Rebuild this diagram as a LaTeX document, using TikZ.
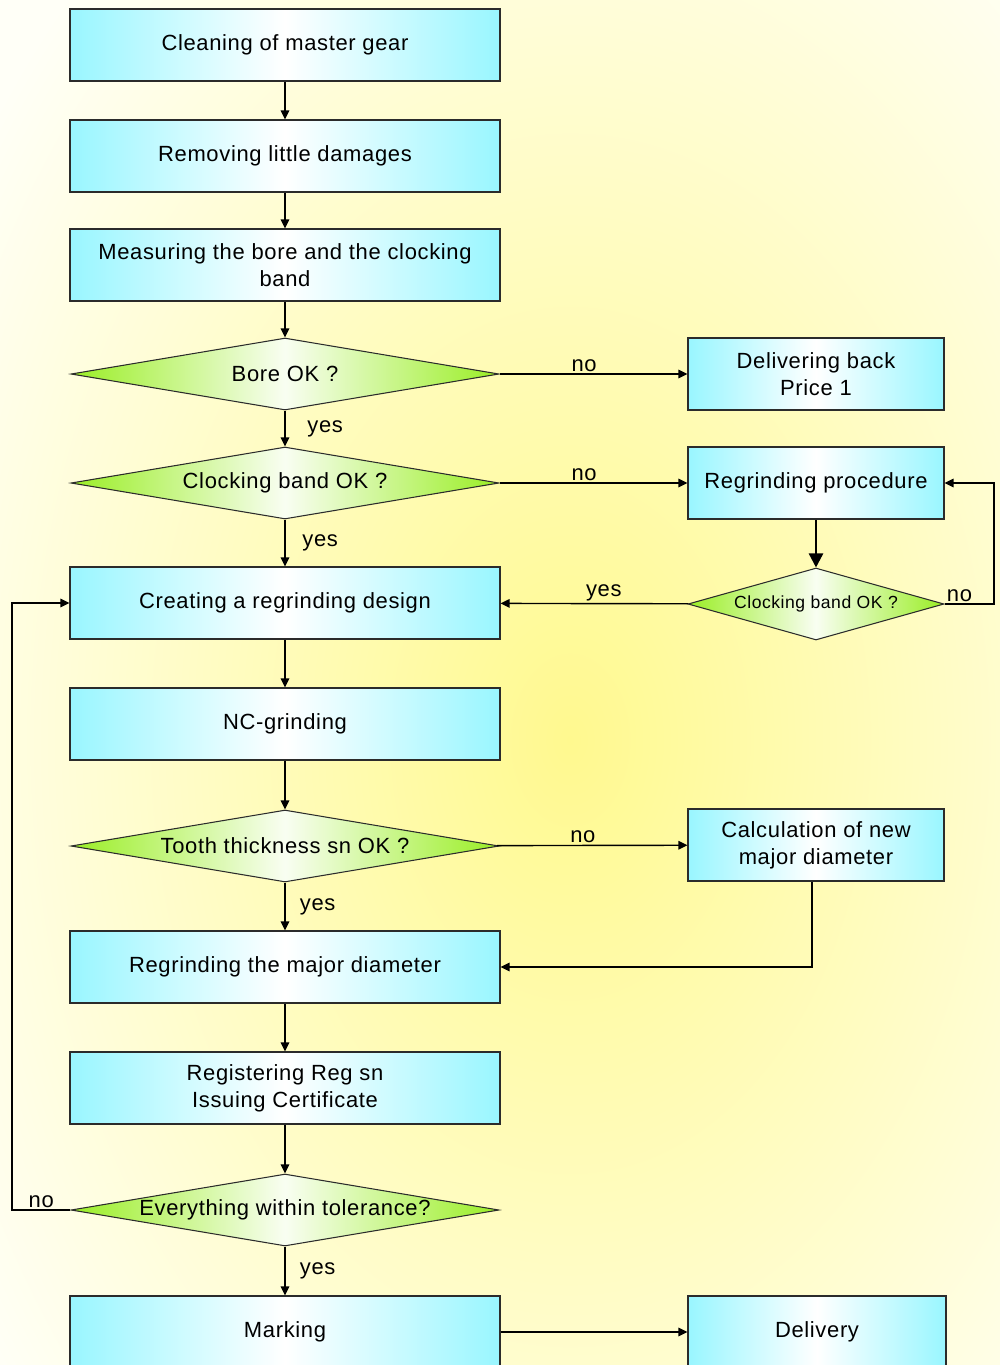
\documentclass[tikz,border=0pt]{standalone}
\usepackage{fontspec}
\setmainfont{Liberation Sans}[LetterSpace=3]
\usetikzlibrary{arrows.meta,positioning,calc,shapes.geometric}
\definecolor{Glow}{HTML}{FFF98F}
\definecolor{Cream}{HTML}{FFFFF7}
\definecolor{BoxCyan}{HTML}{99F6FF}
\definecolor{Lime}{HTML}{9AEE25}
\definecolor{Edge}{HTML}{2B2B2B}

\begin{document}
\begin{tikzpicture}[x=0.2mm,y=-0.2mm,
box/.style={draw=Edge,line width=.6pt,left color=BoxCyan,right color=BoxCyan,middle color=white,minimum width=86mm,minimum height=14.4mm,inner sep=2pt,align=center,font=\fontsize{12.5}{15.5}\selectfont},
rbox/.style={box,minimum width=51.2mm},
test/.style={shape=diamond,draw=Edge,line width=.6pt,left color=Lime,right color=Lime,middle color=Lime!6,aspect=6,inner xsep=-3mm,inner ysep=-1mm,minimum width=85.6mm,minimum height=14.4mm,font=\fontsize{12.5}{15.5}\selectfont},
stest/.style={test,minimum width=51.2mm,font=\fontsize{10}{12}\selectfont},
arr/.style={-{Triangle[length=1.8mm,width=1.7mm]},line width=.8pt},
thk/.style={-{Triangle[length=2.8mm,width=2.8mm]},line width=1.4pt},
lab/.style={font=\fontsize{12.5}{15}\selectfont,inner sep=1pt}]
\useasboundingbox (0,0) rectangle (1000,1365);
\begin{scope}
\clip (0,0) rectangle (1000,1365);
\fill[Cream] (0,0) rectangle (1000,1365);
\shade[inner color=Glow,outer color=Cream] (570,740) ellipse (720 and 1040);
\end{scope}
\node[box] (clean) at (285,45) {Cleaning of master gear};
\node[box] (remove) at (285,156) {Removing little damages};
\node[box] (measure) at (285,265) {Measuring the bore and the clocking\\band};
\node[test] (bore) at (285,374) {Bore OK ?};
\node[test] (band) at (285,483) {Clocking band OK ?};
\node[box] (design) at (285,603) {Creating a regrinding design};
\node[box] (nc) at (285,724) {NC-grinding};
\node[test] (tooth) at (285,846) {Tooth thickness sn OK ?};
\node[box] (major) at (285,967) {Regrinding the major diameter};
\node[box] (reg) at (285,1088) {Registering Reg sn\\Issuing Certificate};
\node[test] (tol) at (285,1210) {Everything within tolerance?};
\node[box] (mark) at (285,1332) {Marking};
\node[rbox] (back) at (816,374) {Delivering back\\Price 1};
\node[rbox] (proc) at (816,483) {Regrinding procedure};
\node[stest] (check) at (816,604) {Clocking band OK ?};
\node[rbox] (calc) at (816,845) {Calculation of new\\major diameter};
\node[rbox,minimum width=51.6mm] (deliv) at (817,1332) {Delivery};
\coordinate (loopr) at (994,604);
\coordinate (loopl) at (12,1210);
\draw[arr] (clean)--(remove);
\draw[arr] (remove)--(measure);
\draw[arr] (measure)--(bore);
\draw[arr] (bore)--node[lab,above,pos=.45]{no}(back);
\draw[arr] (bore)--node[lab,right=4mm]{yes}(band);
\draw[arr] (band)--node[lab,above,pos=.45]{no}(proc);
\draw[arr] (band)--node[lab,right=3mm]{yes}(design);
\draw[thk] (proc)--(check);
\draw[arr] (check)--node[lab,above,pos=.45]{yes}(design);
\draw[arr] (check.east) node[lab,above right]{no}--(loopr)|-(proc.east);
\draw[arr] (design)--(nc);
\draw[arr] (nc)--(tooth);
\draw[arr] (tooth)--node[lab,above,pos=.45]{no}(calc);
\draw[arr] (tooth)--node[lab,right=2.5mm]{yes}(major);
\draw[arr] ([xshift=-.8mm]calc.south)|-(major.east);
\draw[arr] (major)--(reg);
\draw[arr] (reg)--(tol);
\draw[arr] (tol.west)--node[lab,above]{no}(loopl)|-(design.west);
\draw[arr] (tol)--node[lab,right=2.5mm]{yes}(mark);
\draw[arr] (mark)--(deliv);
\end{tikzpicture}
\end{document}
